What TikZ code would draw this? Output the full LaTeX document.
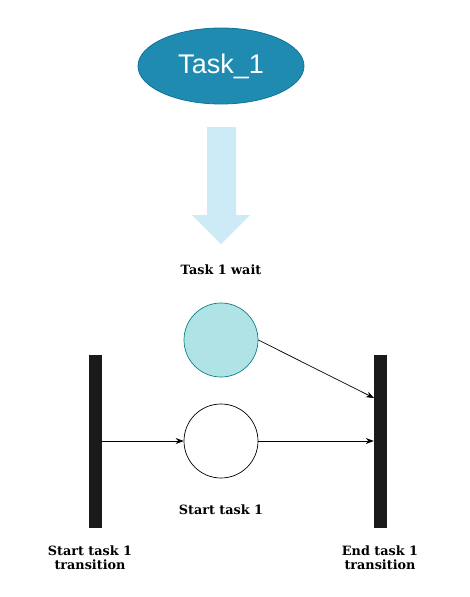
\documentclass[tikz,border=0pt]{standalone}
\usepackage{fontspec}
\setmainfont{DejaVu Serif}
\newfontfamily\labsans{Liberation Sans}
\usetikzlibrary{shapes.geometric,arrows.meta}
\definecolor{taskfill}{HTML}{1F8BB0}
\definecolor{taskdraw}{HTML}{10739E}
\definecolor{arrowfill}{HTML}{CDEBF6}
\definecolor{waitfill}{HTML}{B0E3E6}
\definecolor{waitdraw}{HTML}{0E8088}
\definecolor{barfill}{HTML}{1A1A1A}
\tikzset{
  taskell/.style={ellipse, draw=taskdraw, fill=taskfill, line width=0.8pt, minimum width=166pt, minimum height=76pt, inner sep=0pt, text=white, font=\labsans\fontsize{27}{32}\selectfont},
  place/.style={circle, draw, line width=0.7pt, minimum size=74pt, inner sep=0pt},
  bar/.style={rectangle, draw=barfill, fill=barfill, minimum width=12pt, minimum height=172pt, inner sep=0pt},
  lab/.style={font=\bfseries\fontsize{12.8}{14}\selectfont, align=center, inner sep=0pt},
  conn/.style={-{Stealth[length=8pt,width=6pt]}, line width=0.7pt},
}
\begin{document}
\begin{tikzpicture}[x=1pt,y=-1pt]
\useasboundingbox (0,0) rectangle (469,597);
\node[taskell] (task) at (221,66) {Task\_1};
\fill[arrowfill] (207,127) -- (236,127) -- (236,215) -- (250,215) -- (221,244) -- (192,215) -- (207,215) -- cycle;
\node[lab] (waitlab) at (221,270) {Task 1 wait};
\node[place, draw=waitdraw, fill=waitfill] (wait) at (221,340) {};
\node[place, fill=white] (start) at (221,441) {};
\node[lab] (startlab) at (221,510) {Start task 1};
\node[bar] (lbar) at (95,441) {};
\node[bar] (rbar) at (380,441) {};
\node[lab] (llab) at (90,558) {Start task 1\\transition};
\node[lab] (rlab) at (380,558) {End task 1\\transition};
\coordinate (rin) at (374,398);
\draw[conn] (lbar.east) -- (start.west);
\draw[conn] (start.east) -- (rbar.west);
\draw[conn] (wait.east) -- (rin);
\end{tikzpicture}
\end{document}
